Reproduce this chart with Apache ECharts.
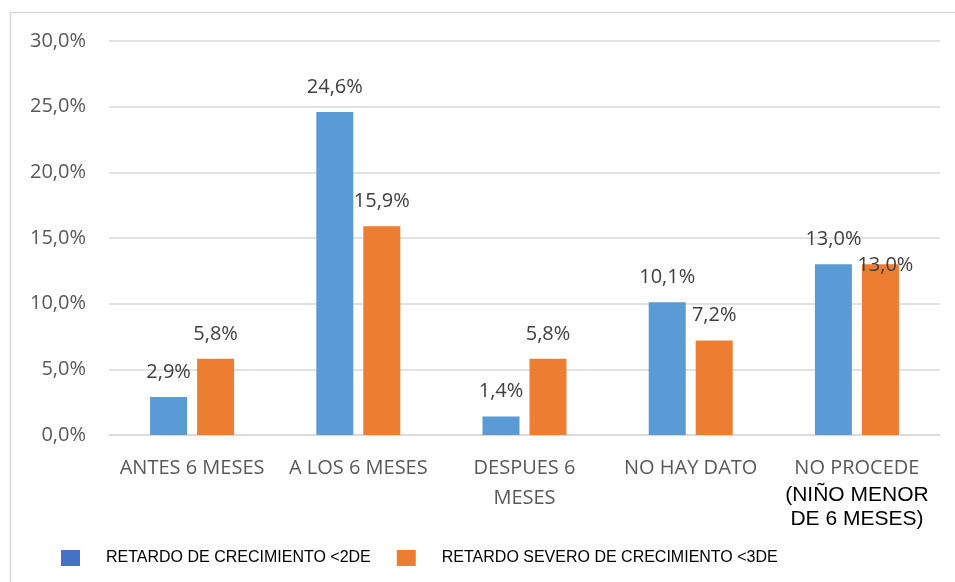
<!DOCTYPE html>
<html>
<head>
<meta charset="utf-8">
<script src="https://cdn.jsdelivr.net/npm/echarts@6/dist/echarts.min.js"></script>
<style>
html, body { margin: 0; padding: 0; background: #fff; }
#chart { width: 955px; height: 582px; }
</style>
</head>
<body>
<div id="chart"></div>
<script>
var categories = ['ANTES 6 MESES', 'A LOS 6 MESES', 'DESPUES 6\nMESES', 'NO HAY DATO', 'NO PROCEDE'];
var seriesNames = ['RETARDO DE CRECIMIENTO <2DE', 'RETARDO SEVERO DE CRECIMIENTO <3DE'];
var moderado = [2.9, 24.6, 1.4, 10.1, 13.0];
var severo = [5.8, 15.9, 5.8, 7.2, 13.0];
var yTicks = [0, 5, 10, 15, 20, 25, 30];

function pct(v) {
    return v.toFixed(1).replace('.', ',') + '%';
}

var myChart = echarts.init(document.getElementById('chart'));
var labelStyle = {
    show: true,
    position: 'top',
    distance: 15,
    color: '#404040',
    fontFamily: 'Open Sans',
    fontSize: 20,
    formatter: function (p) { return pct(p.value); }
};

// la ultima etiqueta naranja queda montada sobre la barra
var severoData = severo.map(function (v, i) {
    if (i === severo.length - 1) {
        return { value: v, label: { offset: [5, 26] } };
    }
    return v;
});

option = {
    animation: false,
    graphic: [
        // marco del grafico
        { type: 'polyline', shape: { points: [[10.5, 600], [10.5, 12.5], [960, 12.5]] },
          style: { stroke: '#d9d9d9', fill: null, lineWidth: 1.5 } }
    ],
    grid: { left: 109, right: 15, top: 41, bottom: 147 },
    legend: {
        left: 56,
        top: 545,
        itemWidth: 19,
        itemHeight: 16,
        itemGap: 26,
        icon: 'rect',
        textStyle: {
            color: '#000',
            fontFamily: 'Liberation Sans',
            fontSize: 16,
            padding: [0, 0, 0, 21]
        },
        data: [
            { name: seriesNames[0], itemStyle: { color: '#4472c4' } },
            { name: seriesNames[1], itemStyle: { color: '#ed7d31' } }
        ]
    },
    xAxis: {
        type: 'category',
        data: categories,
        axisTick: { show: false },
        axisLine: { lineStyle: { color: '#d9d9d9', width: 1.5 } },
        axisLabel: {
            interval: 0,
            margin: 18,
            color: '#595959',
            fontFamily: 'Open Sans',
            fontSize: 20,
            lineHeight: 30,
            formatter: function (v) {
                if (v === 'NO PROCEDE') {
                    return 'NO PROCEDE\n{b|(NIÑO MENOR}\n{b|DE 6 MESES)}';
                }
                return v;
            },
            rich: {
                b: { color: '#000', fontFamily: 'Liberation Sans', fontSize: 21, lineHeight: 24 }
            }
        }
    },
    yAxis: {
        type: 'value',
        min: yTicks[0],
        max: yTicks[yTicks.length - 1],
        interval: 5,
        axisLine: { show: false },
        axisTick: { show: false },
        splitLine: { lineStyle: { color: '#d9d9d9', width: 1.5 } },
        axisLabel: {
            margin: 23,
            color: '#595959',
            fontFamily: 'Open Sans',
            fontSize: 20,
            formatter: function (v) { return pct(v); }
        }
    },
    series: [
        {
            name: seriesNames[0],
            type: 'bar',
            data: moderado,
            barWidth: 37,
            barGap: '27%',
            itemStyle: { color: '#5b9bd5' },
            label: labelStyle
        },
        {
            name: seriesNames[1],
            type: 'bar',
            data: severoData,
            barWidth: 37,
            itemStyle: { color: '#ed7d31' },
            label: labelStyle
        }
    ]
};
myChart.setOption(option);
</script>
</body>
</html>
